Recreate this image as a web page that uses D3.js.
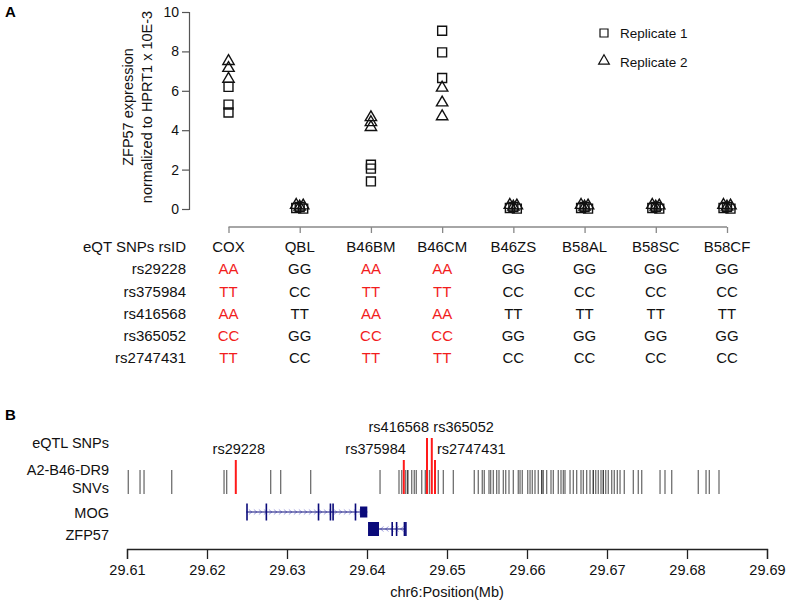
<!DOCTYPE html>
<html>
<head>
<meta charset="utf-8">
<script src="https://cdn.jsdelivr.net/npm/d3@7"></script>
<style>
  html, body { margin: 0; padding: 0; background: #fff; }
  svg { display: block; font-family: "Liberation Sans", Arial, sans-serif; }
</style>
</head>
<body>
<svg id="chart" width="787" height="601"></svg>
<script>
// ---------------- DATA ----------------
const categories = ["COX", "QBL", "B46BM", "B46CM", "B46ZS", "B58AL", "B58SC", "B58CF"];
const replicate1 = [
  [6.2, 5.3, 4.9],
  [0.05, 0.1, 0.02],
  [2.25, 2.05, 1.4],
  [9.05, 7.95, 6.65],
  [0.05, 0.1, 0.02],
  [0.05, 0.1, 0.02],
  [0.05, 0.1, 0.02],
  [0.05, 0.1, 0.02]
];
const replicate2 = [
  [7.45, 7.1, 6.55],
  [0.12, 0.06, 0.15],
  [4.6, 4.35, 4.1],
  [6.1, 5.35, 4.65],
  [0.12, 0.06, 0.15],
  [0.12, 0.06, 0.15],
  [0.12, 0.06, 0.15],
  [0.12, 0.06, 0.15]
];
const yTicks = [0, 2, 4, 6, 8, 10];
const snpIds = ["rs29228", "rs375984", "rs416568", "rs365052", "rs2747431"];
const riskGenotype = ["AA", "TT", "AA", "CC", "TT"];
const genotypes = [
  ["AA", "GG", "AA", "AA", "GG", "GG", "GG", "GG"],
  ["TT", "CC", "TT", "TT", "CC", "CC", "CC", "CC"],
  ["AA", "TT", "AA", "AA", "TT", "TT", "TT", "TT"],
  ["CC", "GG", "CC", "CC", "GG", "GG", "GG", "GG"],
  ["TT", "CC", "TT", "TT", "CC", "CC", "CC", "CC"]
];

// Panel B (positions in Mb on chr6)
const eqtlPositions = [29.6236, 29.6446, 29.6475, 29.6481, 29.6485];
const snvPositions = [
  29.61016, 29.61163, 29.61213, 29.61559, 29.62213, 29.62246, 29.62796, 29.62921,
  29.63296, 29.64163, 29.64400, 29.64434, 29.64484, 29.64509, 29.64509, 29.64559,
  29.64591, 29.64616, 29.64684, 29.64729, 29.64781, 29.64891, 29.64954, 29.65079,
  29.65341, 29.65391, 29.65441, 29.65466, 29.65525, 29.65546, 29.65579, 29.65621,
  29.65650, 29.65704, 29.65734, 29.65775, 29.65829, 29.65891, 29.65913, 29.65941,
  29.66009, 29.66038, 29.66066, 29.66100, 29.66141, 29.66184, 29.66184, 29.66204,
  29.66246, 29.66300, 29.66329, 29.66391, 29.66425, 29.66454, 29.66475, 29.66538,
  29.66579, 29.66621, 29.66675, 29.66704, 29.66746, 29.66788, 29.66829, 29.66829,
  29.66859, 29.66891, 29.66925, 29.66954, 29.66954, 29.66984, 29.67016, 29.67059,
  29.67091, 29.67129, 29.67163, 29.67216, 29.67329, 29.67391, 29.67434, 29.67663,
  29.67725, 29.67809, 29.68141, 29.68238, 29.68279, 29.68400
];
const xTicksB = [29.61, 29.62, 29.63, 29.64, 29.65, 29.66, 29.67, 29.68, 29.69];
const genes = ["MOG", "ZFP57"];
const geneSpans = [[29.62492, 29.64004], [29.64013, 29.64484]];
const geneStrand = ["+", "-"];
const mogExons = [
  [29.62490, 29.62499, "cds"], [29.62732, 29.62745, "cds"], [29.63384, 29.63392, "cds"],
  [29.63533, 29.63540, "cds"], [29.63566, 29.63573, "cds"], [29.63846, 29.63853, "cds"],
  [29.63913, 29.64004, "utr"]
];
const zfp57Exons = [
  [29.64013, 29.64150, "cds"], [29.64305, 29.64312, "cds"], [29.64360, 29.64366, "cds"],
  [29.64458, 29.64466, "cds"], [29.64476, 29.64484, "cds"]
];
const geneExons = [mogExons, zfp57Exons];

// ---------------- DRAW ----------------
const svg = d3.select("#chart");
const FONT = 14.5;

// Panel labels
svg.append("text").attr("x", 5).attr("y", 17).attr("font-weight", "bold")
  .attr("font-size", 15).text("A");
svg.append("text").attr("x", 5).attr("y", 420).attr("font-weight", "bold")
  .attr("font-size", 15).text("B");

// ---- Panel A ----
const y = d3.scaleLinear().domain([0, 10]).range([209, 12]);
const x = d3.scalePoint().domain(categories).range([228.5, 727]);
const axisColor = "#555";

const yAxisG = svg.append("g").attr("transform", "translate(189,0)")
  .call(d3.axisLeft(y).tickValues(yTicks).tickFormat(d3.format("d")).tickSize(7).tickPadding(3));
yAxisG.select(".domain").attr("stroke", axisColor).attr("stroke-width", 1.2);
yAxisG.selectAll(".tick line").attr("stroke", axisColor).attr("stroke-width", 1.2);
yAxisG.selectAll(".tick text").attr("font-size", 14).attr("fill", "#111")
  .attr("font-family", "Liberation Sans, Arial, sans-serif");

// y label
const yl = svg.append("g").attr("transform", "translate(0,107) rotate(-90)");
yl.append("text").attr("x", 0).attr("y", 133).attr("text-anchor", "middle")
  .attr("font-size", 14.5).attr("fill", "#111").text("ZFP57 expression");
yl.append("text").attr("x", 0).attr("y", 152).attr("text-anchor", "middle")
  .attr("font-size", 14.5).attr("fill", "#111").text("normalized to HPRT1 x 10E-3");

// x axis (bracket-like, labels are the table header)
const xAxisG = svg.append("g").attr("transform", "translate(0,227)")
  .call(d3.axisBottom(x).tickSize(6).tickFormat(""));
xAxisG.select(".domain").attr("stroke", "#888").attr("stroke-width", 1.3)
  .attr("d", `M${x(categories[0])},0H${x(categories[categories.length - 1])}`);
xAxisG.selectAll(".tick line").attr("stroke", "#888").attr("stroke-width", 1.3);

// points
const sq = d3.symbol().type(d3.symbolSquare).size(80);
const tri = d3.symbol().type(d3.symbolTriangle).size(56);
function jitter(v, i) { return v < 0.3 ? (i - 1) * 3.5 : 0; }
const pts = svg.append("g");
categories.forEach((c, ci) => {
  replicate1[ci].forEach((v, i) => {
    pts.append("path").attr("d", sq)
      .attr("transform", `translate(${x(c) + jitter(v, i)},${y(v)})`)
      .attr("fill", "none").attr("stroke", "#111").attr("stroke-width", 1.4);
  });
  replicate2[ci].forEach((v, i) => {
    pts.append("path").attr("d", tri)
      .attr("transform", `translate(${x(c) - jitter(v, i)},${y(v) - 1})`)
      .attr("fill", "none").attr("stroke", "#111").attr("stroke-width", 1.4);
  });
});

// legend
const lg = svg.append("g");
lg.append("path").attr("d", d3.symbol().type(d3.symbolSquare).size(64))
  .attr("transform", "translate(604,33)").attr("fill", "none").attr("stroke", "#111").attr("stroke-width", 1.2);
lg.append("text").attr("x", 620).attr("y", 33).attr("dy", "0.35em").attr("font-size", 13.5)
  .attr("fill", "#111").text("Replicate 1");
lg.append("path").attr("d", d3.symbol().type(d3.symbolTriangle).size(50))
  .attr("transform", "translate(604,61)").attr("fill", "none").attr("stroke", "#111").attr("stroke-width", 1.2);
lg.append("text").attr("x", 620).attr("y", 62).attr("dy", "0.35em").attr("font-size", 13.5)
  .attr("fill", "#111").text("Replicate 2");

// table
const rowY = d3.scalePoint().domain(["header"].concat(snpIds)).range([247, 358]);
const tbl = svg.append("g").attr("font-size", 15);
tbl.append("text").attr("x", 186).attr("y", rowY("header")).attr("dy", "0.35em")
  .attr("text-anchor", "end").attr("fill", "#111").text("eQT SNPs rsID");
categories.forEach(c => {
  tbl.append("text").attr("x", x(c)).attr("y", rowY("header")).attr("dy", "0.35em")
    .attr("text-anchor", "middle").attr("fill", "#111").text(c);
});
snpIds.forEach((s, si) => {
  tbl.append("text").attr("x", 186).attr("y", rowY(s)).attr("dy", "0.35em")
    .attr("text-anchor", "end").attr("fill", "#111").text(s);
  categories.forEach((c, ci) => {
    const g = genotypes[si][ci];
    tbl.append("text").attr("x", x(c)).attr("y", rowY(s)).attr("dy", "0.35em")
      .attr("text-anchor", "middle")
      .attr("fill", g === riskGenotype[si] ? "#f21d1d" : "#111").text(g);
  });
});

// ---- Panel B ----
const xb = d3.scaleLinear().domain([29.61, 29.69]).range([127, 767]);
const bAxis = svg.append("g").attr("transform", "translate(0,549)")
  .call(d3.axisBottom(xb).tickValues(xTicksB).tickFormat(d3.format(".2f")).tickSize(10).tickPadding(6));
bAxis.select(".domain").attr("stroke", "#222").attr("stroke-width", 1.3);
bAxis.selectAll(".tick line").attr("stroke", "#222").attr("stroke-width", 1.3);
bAxis.selectAll(".tick text").attr("font-size", FONT).attr("fill", "#111")
  .attr("font-family", "Liberation Sans, Arial, sans-serif");
svg.append("text").attr("x", 447).attr("y", 592).attr("dy", "0.35em").attr("text-anchor", "middle")
  .attr("font-size", FONT).attr("fill", "#111").text("chr6:Position(Mb)");

// row labels
const rowLabels = [["eQTL SNPs", 443], ["A2-B46-DR9", 470], ["SNVs", 488], ["MOG", 513], ["ZFP57", 535]];
rowLabels.forEach(([t, yy]) => {
  svg.append("text").attr("x", 109).attr("y", yy).attr("dy", "0.35em").attr("text-anchor", "end")
    .attr("font-size", FONT).attr("fill", "#111").text(t);
});

// SNVs
svg.append("g").selectAll("line").data(snvPositions).join("line")
  .attr("x1", d => xb(d)).attr("x2", d => xb(d)).attr("y1", 470).attr("y2", 494)
  .attr("stroke", "#222").attr("stroke-opacity", 0.65).attr("stroke-width", 1.3);

// eQTL SNPs (red) with labels
const labelPlace = {
  rs29228: { top: 460, ly: 449, anchor: "middle", dx: 3 },
  rs375984: { top: 460, ly: 449, anchor: "end", dx: 2 },
  rs416568: { top: 438, ly: 427, anchor: "end", dx: 2 },
  rs365052: { top: 438, ly: 427, anchor: "start", dx: 1.5 },
  rs2747431: { top: 460, ly: 449, anchor: "start", dx: 2 }
};
snpIds.forEach((s, i) => {
  const p = labelPlace[s];
  const xx = xb(eqtlPositions[i]);
  svg.append("line").attr("x1", xx).attr("x2", xx).attr("y1", p.top).attr("y2", 494)
    .attr("stroke", "#ff1a1a").attr("stroke-width", 2);
  svg.append("text").attr("x", xx + p.dx).attr("y", p.ly).attr("dy", "0.35em")
    .attr("text-anchor", p.anchor).attr("font-size", FONT).attr("fill", "#111").text(s);
});

// genes
const geneY = [512, 529];
const geneColor = "#0a0a7a";
genes.forEach((g, gi) => {
  const gy = geneY[gi];
  const [s, e] = geneSpans[gi];
  const gg = svg.append("g");
  const x0 = xb(s), x1 = xb(e);
  for (let cx = x0 + 4; cx < x1 - 2; cx += 5) {
    const dir = geneStrand[gi] === "+" ? 1 : -1;
    gg.append("path").attr("d", `M${cx - 1.5 * dir},${gy - 2.5}L${cx + 1.5 * dir},${gy}L${cx - 1.5 * dir},${gy + 2.5}`)
      .attr("fill", "none").attr("stroke", "#8a8ad6").attr("stroke-width", 0.8);
  }
  gg.append("line").attr("x1", x0).attr("x2", x1).attr("y1", gy).attr("y2", gy)
    .attr("stroke", geneColor).attr("stroke-width", 1.2);
  geneExons[gi].forEach(([a, b, t]) => {
    const h = t === "cds" ? (gi === 0 ? 17 : 14) : 11;
    const w = Math.max(1.6, xb(b) - xb(a));
    gg.append("rect").attr("x", xb(a)).attr("y", gy - h / 2).attr("width", w).attr("height", h)
      .attr("fill", geneColor);
  });
});
</script>
</body>
</html>
